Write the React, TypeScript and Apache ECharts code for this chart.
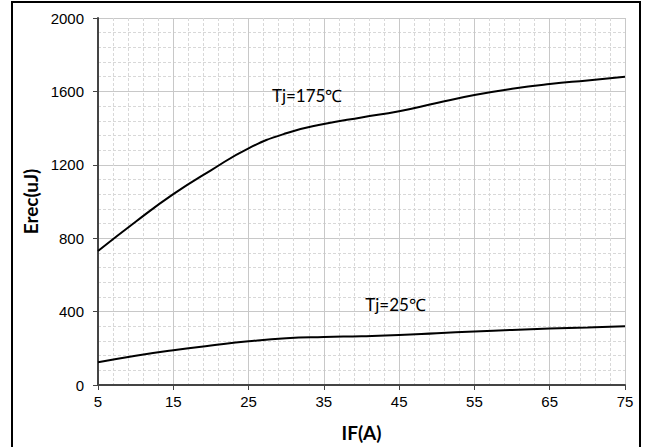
import React, { useEffect, useRef } from "react";
import * as echarts from "echarts";

const currents = [5, 10, 15, 20, 25, 30, 35, 40, 45, 50, 55, 60, 65, 70, 75];
const erec175 = [730, 890, 1040, 1170, 1290, 1372, 1422, 1458, 1492, 1537, 1580, 1614, 1640, 1660, 1680];
const erec25 = [124, 160, 190, 215, 238, 255, 262, 266, 272, 282, 292, 300, 308, 314, 320];
const labels = [
  { text: "Tj=175℃", x: 28.1, y: 1578 },
  { text: "Tj=25℃", x: 40.5, y: 438 },
];

export default function App() {
  const ref = useRef<HTMLDivElement>(null);
  useEffect(() => {
    if (!ref.current) return;
    const chart = echarts.init(ref.current, null, { renderer: "svg" });
    const tickFont = { color: "#000", fontFamily: "Arial", fontSize: 15 };
    const mkSeries = (data: number[], lbl: { text: string; x: number; y: number }) => ({
      type: "line",
      data: currents.map((c, i) => [c, data[i]]),
      smooth: true,
      showSymbol: false,
      lineStyle: { color: "#000", width: 2 },
      markPoint: {
        symbolSize: 0,
        silent: true,
        data: [
          {
            coord: [lbl.x, lbl.y],
            label: {
              show: true,
              formatter: lbl.text,
              position: "right",
              distance: 0,
              color: "#000",
              fontFamily: "Lato",
              fontSize: 17,
            },
          },
        ],
      },
    });
    chart.setOption({
      animation: false,
      backgroundColor: "#fff",
      grid: { left: 98, right: 23, top: 18, bottom: 59 },
      graphic: [
        {
          type: "rect",
          shape: { x: 12, y: 2, width: 628, height: 470 },
          style: { fill: "none", stroke: "#000", lineWidth: 2 },
          silent: true,
        },
      ],
      xAxis: {
        type: "value",
        min: 5,
        max: 75,
        interval: 10,
        name: "IF(A)",
        nameLocation: "middle",
        nameGap: 38,
        nameTextStyle: { color: "#000", fontFamily: "Lato", fontWeight: "bold", fontSize: 19, verticalAlign: "top" },
        axisLine: { show: true, onZero: false, lineStyle: { color: "#444", width: 2 } },
        axisTick: { show: true, length: 5, lineStyle: { color: "#444" } },
        axisLabel: { show: true, ...tickFont, margin: 9, formatter: (v: number) => String(v) },
        splitLine: { show: true, lineStyle: { color: "#c8c8c8", width: 1 } },
        minorTick: { show: false, splitNumber: 5 },
        minorSplitLine: { show: true, lineStyle: { color: "#d8d8d8", type: [3, 2], width: 1 } },
      },
      yAxis: {
        type: "value",
        min: 0,
        max: 2000,
        interval: 400,
        name: "Erec(uJ)",
        nameLocation: "middle",
        nameGap: 55,
        nameTextStyle: { color: "#000", fontFamily: "Lato", fontWeight: "bold", fontSize: 19 },
        axisLine: { show: true, lineStyle: { color: "#444", width: 2 } },
        axisTick: { show: true, length: 5, lineStyle: { color: "#444" } },
        axisLabel: { show: true, ...tickFont, margin: 14, formatter: (v: number) => String(v) },
        splitLine: { show: true, lineStyle: { color: "#c8c8c8", width: 1 } },
        minorTick: { show: false, splitNumber: 5 },
        minorSplitLine: { show: true, lineStyle: { color: "#d8d8d8", type: [3, 2], width: 1 } },
      },
      series: [mkSeries(erec175, labels[0]), mkSeries(erec25, labels[1])],
    });
    return () => chart.dispose();
  }, []);
  return <div ref={ref} style={{ position: "fixed", left: 0, top: 0, width: 648, height: 447 }} />;
}
